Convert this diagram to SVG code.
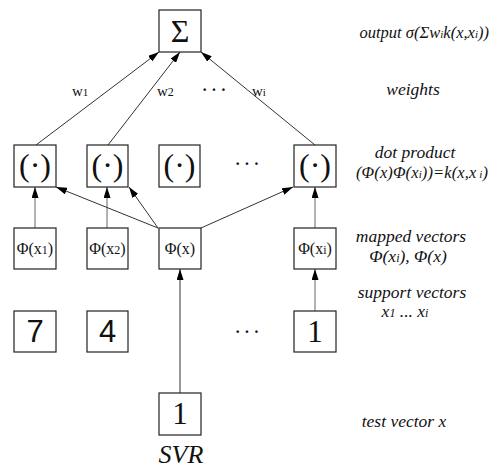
<svg xmlns="http://www.w3.org/2000/svg" width="491" height="468" viewBox="0 0 491 468">
<defs>
<marker id="ah" viewBox="0 0 11 7" refX="11" refY="3.5" markerWidth="11" markerHeight="7" markerUnits="userSpaceOnUse" orient="auto">
<path d="M0,0 L11,3.5 L0,7 z" fill="#000"/>
</marker>
<style>
.box{fill:#fff;stroke:#222;stroke-width:1.2}
.ln{stroke:#333;stroke-width:1;fill:none;marker-end:url(#ah)}
.lg{stroke:#666;stroke-width:1;fill:none;marker-end:url(#ah)}
text{font-family:Liberation Serif, DejaVu Serif, serif}
.t{fill:#111}
.big{font-size:32px;text-anchor:middle}
.phi{font-size:16px;text-anchor:middle}
.num{font-size:31px;text-anchor:middle}
.lab{font-size:17.5px;font-style:italic;text-anchor:middle}
.w{font-size:15px}
.dots{font-size:16px;font-weight:bold;text-anchor:middle;letter-spacing:4px}
.sans{font-family:Liberation Sans, Arial, sans-serif}
</style>
</defs>
<rect width="491" height="468" fill="#fff"/>

<g id="connectors">
<line class="ln" x1="36" y1="145" x2="159" y2="52"/>
<line class="ln" x1="108" y1="145" x2="180" y2="52"/>
<line class="ln" x1="315" y1="145" x2="201" y2="52"/>
<line class="lg" x1="35" y1="228" x2="35" y2="187"/>
<line class="lg" x1="107" y1="228" x2="107" y2="187"/>
<line class="lg" x1="315" y1="228" x2="315" y2="187"/>
<line class="ln" x1="158" y1="228" x2="56" y2="187"/>
<line class="ln" x1="158" y1="228" x2="129" y2="187"/>
<line class="ln" x1="201" y1="228" x2="293" y2="187"/>
<line class="lg" x1="315" y1="311" x2="315" y2="269"/>
<line class="ln" x1="180" y1="393" x2="180" y2="269"/>
</g>

<g id="sum">
<rect class="box" x="159" y="10" width="42" height="42"/>
<text class="t big" x="180" y="42">Σ</text>
</g>

<g id="dot1"><rect class="box" x="14" y="145" width="42" height="42"/><text class="t big" x="35" y="176">(·)</text></g>
<g id="dot2"><rect class="box" x="87" y="145" width="41" height="42"/><text class="t big" x="107.5" y="176">(·)</text></g>
<g id="dot3"><rect class="box" x="159" y="145" width="41" height="42"/><text class="t big" x="179.5" y="176">(·)</text></g>
<g id="dot4"><rect class="box" x="294" y="145" width="42" height="42"/><text class="t big" x="315" y="176">(·)</text></g>

<g id="map1"><rect class="box" x="14" y="228" width="42" height="41"/><text class="t phi" x="35" y="254">Φ(x<tspan font-size="12">1</tspan>)</text></g>
<g id="map2"><rect class="box" x="87" y="228" width="41" height="41"/><text class="t phi" x="107.5" y="254">Φ(x<tspan font-size="12">2</tspan>)</text></g>
<g id="mapx"><rect class="box" x="159" y="228" width="42" height="41"/><text class="t phi" x="180" y="254">Φ(x)</text></g>
<g id="mapi"><rect class="box" x="294" y="228" width="42" height="41"/><text class="t phi" x="315" y="254">Φ(x<tspan font-size="12">i</tspan>)</text></g>

<g id="sv1"><rect class="box" x="14" y="311" width="42" height="41"/><text class="t num sans" x="35" y="342">7</text></g>
<g id="sv2"><rect class="box" x="87" y="311" width="41" height="41"/><text class="t num sans" x="107.5" y="342">4</text></g>
<g id="svi"><rect class="box" x="294" y="311" width="42" height="41"/><text class="t num" x="315" y="342">1</text></g>

<g id="test"><rect class="box" x="159" y="393" width="42" height="42"/><text class="t num" x="180" y="424">1</text></g>

<g id="texts">
<text class="t w" x="72" y="96">w<tspan font-size="11">1</tspan></text>
<text class="t w" x="157" y="96">w<tspan font-size="12">2</tspan></text>
<text class="t w" x="252" y="96">w<tspan font-size="11">i</tspan></text>
<text class="t dots" x="216" y="95">···</text>
<text class="t dots" x="249" y="169">···</text>
<text class="t dots" x="249" y="337">···</text>

<text class="t lab" x="489" y="38" style="text-anchor:end;font-size:16.5px">output σ(Σw<tspan font-size="11">i</tspan>k(x,x<tspan font-size="11">i</tspan>))</text>
<text class="t lab" x="413" y="95">weights</text>
<text class="t lab" x="415" y="158">dot product</text>
<text class="t lab" x="356" y="178" textLength="132" lengthAdjust="spacing" style="text-anchor:start;font-size:16.5px">(Φ(x)Φ(x<tspan font-size="11">i</tspan>))=k(x,x<tspan font-size="11"> i</tspan>)</text>
<text class="t lab" x="411" y="242">mapped vectors</text>
<text class="t lab" x="408" y="262">Φ(x<tspan font-size="12">i</tspan>), Φ(x)</text>
<text class="t lab" x="412" y="298">support vectors</text>
<text class="t lab" x="405" y="317">x<tspan font-size="12">1</tspan> ... x<tspan font-size="12">i</tspan></text>
<text class="t lab" x="404" y="427">test vector x</text>
<text class="t" x="181" y="463" font-size="26" font-style="italic" text-anchor="middle">SVR</text>
</g>
</svg>
